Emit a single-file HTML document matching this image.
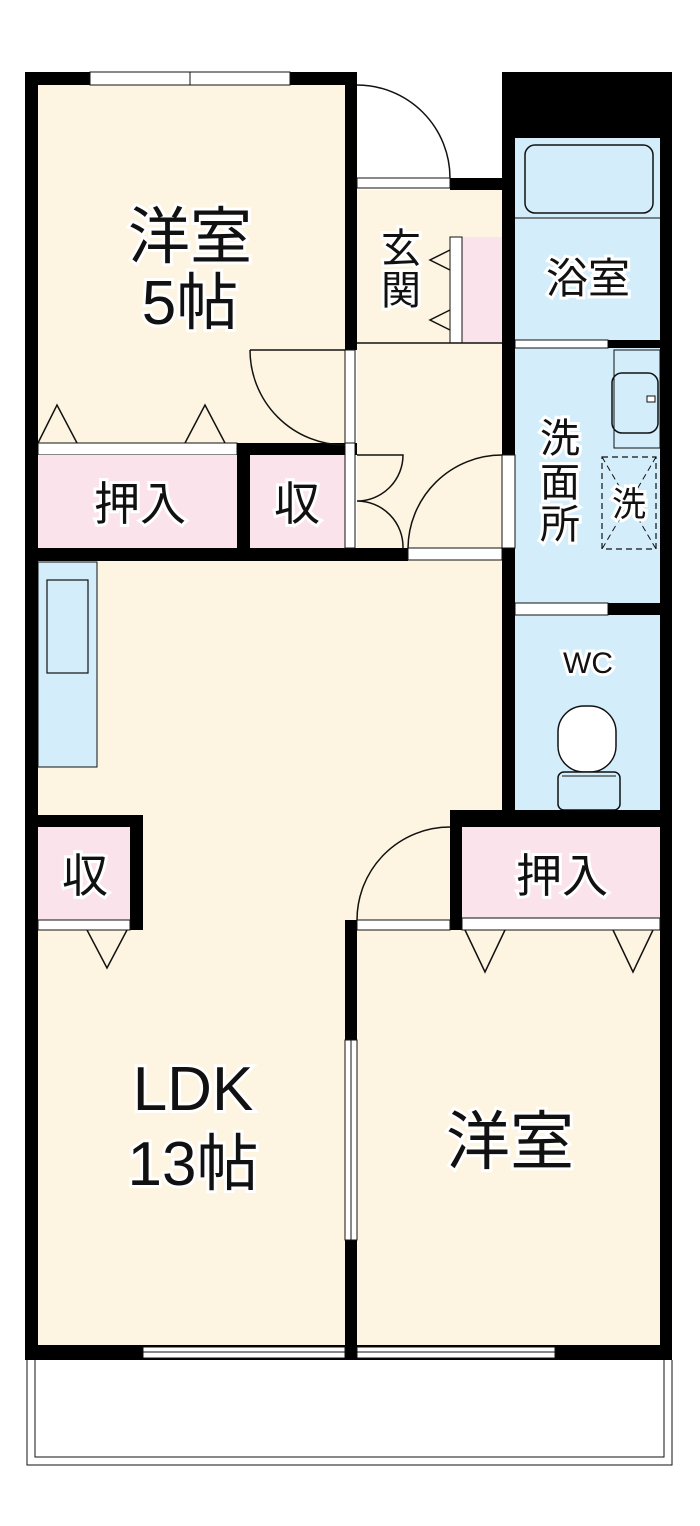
<!DOCTYPE html>
<html><head><meta charset="utf-8"><style>
html,body{margin:0;padding:0;background:#fff;}
svg{display:block}
text{font-family:"Liberation Sans","Noto Sans CJK JP",sans-serif;fill:#111;stroke:#fff;stroke-width:6px;paint-order:stroke;text-anchor:middle}
</style></head><body>
<svg width="700" height="1526" viewBox="0 0 700 1526" xmlns="http://www.w3.org/2000/svg">
<rect x="38" y="85" width="307" height="358" fill="#fdf5e1"/>
<rect x="357" y="190" width="145" height="358" fill="#fdf5e1"/>
<rect x="38" y="560" width="464" height="785" fill="#fdf5e1"/>
<rect x="357" y="822" width="95" height="100" fill="#fdf5e1"/>
<rect x="357" y="930" width="303" height="415" fill="#fdf5e1"/>
<rect x="38" y="443" width="199" height="12" fill="#fff" stroke="#111" stroke-width="1"/>
<rect x="38" y="455" width="199" height="93" fill="#fbe3ec"/>
<rect x="250" y="455" width="95" height="93" fill="#fbe3ec"/>
<rect x="450" y="237" width="52" height="106" fill="#fbe3ec"/>
<rect x="450" y="237" width="12" height="106" fill="#fff" stroke="#111" stroke-width="1"/>
<line x1="357" y1="343" x2="502" y2="343" stroke="#111" stroke-width="1.5"/>
<rect x="38" y="827" width="92" height="93" fill="#fbe3ec"/>
<rect x="462" y="827" width="198" height="91" fill="#fbe3ec"/>
<rect x="515" y="138" width="145" height="202" fill="#d3eefa"/>
<rect x="525" y="145" width="128" height="68" rx="10" fill="none" stroke="#111" stroke-width="1.5"/>
<line x1="515" y1="218" x2="660" y2="218" stroke="#111" stroke-width="1"/>
<rect x="515" y="348" width="145" height="255" fill="#d3eefa"/>
<rect x="515" y="340" width="93" height="8" fill="#fff" stroke="#111" stroke-width="1"/>
<rect x="614" y="350" width="46" height="98" fill="none" stroke="#111" stroke-width="1"/>
<rect x="612" y="373" width="46" height="60" rx="10" fill="none" stroke="#111" stroke-width="1.5"/>
<rect x="647" y="396" width="8" height="6" fill="#fff" stroke="#111"/>
<rect x="602" y="457" width="54" height="92" fill="none" stroke="#111" stroke-width="1.2" stroke-dasharray="6 4"/>
<line x1="602" y1="457" x2="656" y2="549" stroke="#111" stroke-width="1" stroke-dasharray="6 4"/>
<line x1="656" y1="457" x2="602" y2="549" stroke="#111" stroke-width="1" stroke-dasharray="6 4"/>
<rect x="515" y="615" width="145" height="195" fill="#d3eefa"/>
<rect x="515" y="603" width="93" height="12" fill="#fff" stroke="#111" stroke-width="1"/>
<rect x="558" y="706" width="58" height="66" rx="26" fill="#fff" stroke="#111" stroke-width="1.5"/>
<rect x="558" y="772" width="62" height="38" rx="6" fill="#d3eefa" stroke="#111" stroke-width="1.5"/>
<line x1="562" y1="776" x2="616" y2="776" stroke="#111"/>
<rect x="38" y="562" width="59" height="205" fill="#d3eefa" stroke="#111" stroke-width="1"/>
<rect x="47" y="580" width="41" height="93" fill="none" stroke="#111" stroke-width="1.2"/>
<g fill="#000">
<rect x="25" y="72" width="332" height="13"/>
<rect x="25" y="72" width="13" height="1288"/>
<rect x="345" y="72" width="12" height="278"/>
<rect x="502" y="72" width="170" height="66"/>
<rect x="502" y="72" width="13" height="743"/>
<rect x="660" y="72" width="12" height="1288"/>
<rect x="450" y="178" width="52" height="12"/>
<rect x="237" y="443" width="120" height="12"/>
<rect x="237" y="443" width="13" height="117"/>
<rect x="25" y="548" width="383" height="13"/>
<rect x="608" y="340" width="52" height="8"/>
<rect x="608" y="603" width="52" height="12"/>
<rect x="450" y="810" width="222" height="17"/>
<rect x="450" y="810" width="12" height="120"/>
<rect x="25" y="815" width="118" height="12"/>
<rect x="130" y="815" width="13" height="115"/>
<rect x="345" y="920" width="12" height="440"/>
<rect x="25" y="1345" width="647" height="15"/>
</g>
<rect x="90" y="72" width="200" height="13" fill="#fff" stroke="#111" stroke-width="1"/>
<line x1="190" y1="72" x2="190" y2="85" stroke="#111"/>
<rect x="357" y="178" width="93" height="10" fill="#fff" stroke="#111" stroke-width="1"/>
<rect x="408" y="548" width="94" height="12" fill="#fff" stroke="#111" stroke-width="1"/>
<rect x="345" y="350" width="10" height="198" fill="#fff" stroke="#111" stroke-width="1"/>
<line x1="345" y1="443" x2="355" y2="443" stroke="#111"/>
<rect x="502" y="455" width="13" height="93" fill="#fff" stroke="#111" stroke-width="1"/>
<rect x="38" y="920" width="92" height="10" fill="#fff" stroke="#111" stroke-width="1"/>
<rect x="357" y="920" width="93" height="10" fill="#fff" stroke="#111" stroke-width="1"/>
<rect x="462" y="918" width="198" height="12" fill="#fff" stroke="#111" stroke-width="1"/>
<rect x="345" y="1040" width="12" height="200" fill="#fff" stroke="#111" stroke-width="1"/>
<line x1="351" y1="1040" x2="351" y2="1240" stroke="#111"/>
<rect x="143" y="1347" width="202" height="11" fill="#fff" stroke="#111" stroke-width="1"/>
<line x1="143" y1="1352" x2="345" y2="1352" stroke="#111"/>
<rect x="357" y="1347" width="198" height="11" fill="#fff" stroke="#111" stroke-width="1"/>
<line x1="357" y1="1352" x2="555" y2="1352" stroke="#111"/>
<path d="M27 1360 V1465 H672 V1360 M35 1360 V1457 H664 V1360" fill="none" stroke="#111" stroke-width="1"/>
<g fill="none" stroke="#111" stroke-width="1.5">
<path d="M357 85 A93 93 0 0 1 450 178"/>
<path d="M250 350 H345 M250 350 A95 95 0 0 0 345 445"/>
<path d="M408 548 A94 94 0 0 1 502 455"/>
<path d="M357 920 A93 93 0 0 1 450 827"/>
<path d="M357 455 H403 A46 46 0 0 1 357 501 A46 46 0 0 1 403 548"/>
<path d="M38 443 L57 405 L77 443 M185 443 L205 405 L225 443"/>
<path d="M450 250 L430 260 L450 270 M450 310 L430 320 L450 330"/>
<path d="M87 930 L107 968 L127 930 M465 930 L485 972 L505 930 M613 930 L633 972 L653 930"/>
</g>
<text x="190" y="258" font-size="62">洋室</text>
<text x="190" y="324" font-size="62">5帖</text>
<text x="401" y="262" font-size="40">玄</text>
<text x="401" y="304" font-size="40">関</text>
<text x="588" y="293" font-size="42">浴室</text>
<text x="560" y="452" font-size="40">洗</text>
<text x="560" y="496" font-size="40">面</text>
<text x="560" y="538" font-size="40">所</text>
<text x="629" y="516" font-size="34">洗</text>
<text x="588" y="673" font-size="30">WC</text>
<text x="140" y="520" font-size="46">押入</text>
<text x="297" y="520" font-size="46">収</text>
<text x="85" y="892" font-size="46">収</text>
<text x="562" y="892" font-size="46">押入</text>
<text x="193" y="1110" font-size="62">LDK</text>
<text x="193" y="1185" font-size="62">13帖</text>
<text x="510" y="1164" font-size="64">洋室</text>
</svg>
</body></html>
